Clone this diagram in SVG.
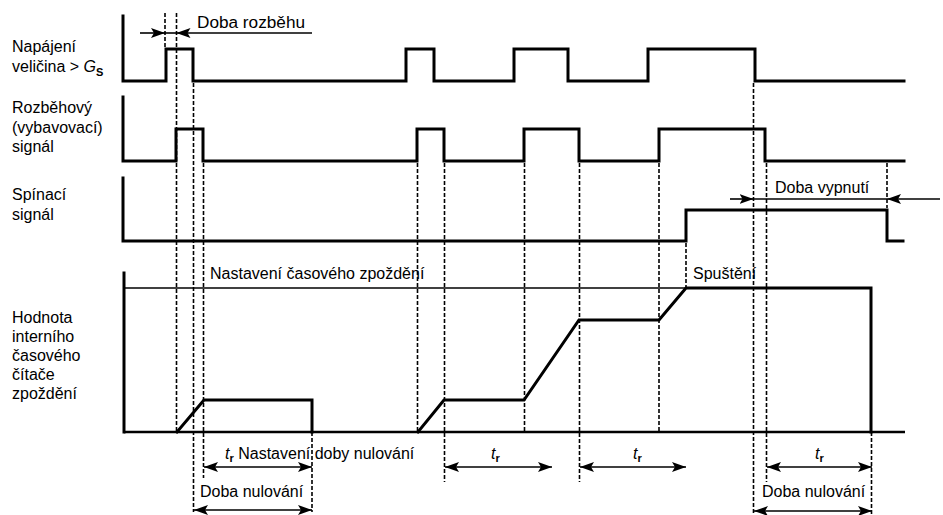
<svg xmlns="http://www.w3.org/2000/svg" width="943" height="515" viewBox="0 0 943 515">
  <style>
    text { font-family: "Liberation Sans", Arial, sans-serif; font-size: 16px; fill: #000; }
    .wave { fill: none; stroke: #000; stroke-width: 3; stroke-linejoin: miter; stroke-linecap: square; }
    .base { fill: none; stroke: #000; stroke-width: 2.5; }
    .thin { fill: none; stroke: #000; stroke-width: 1.4; }
    .dash { fill: none; stroke: #000; stroke-width: 1.6; stroke-dasharray: 4 2; }
    .dim { fill: none; stroke: #000; stroke-width: 1.6; }
    .it { font-style: italic; }
    .sub { font-size: 11px; font-weight: bold; }
  </style>
  <defs>
    <marker id="ah" viewBox="0 0 14 10" refX="14" refY="5" markerWidth="14" markerHeight="10" markerUnits="userSpaceOnUse" orient="auto-start-reverse">
      <path d="M0,0 L14,5 L0,10 L3,5 Z" fill="#000"/>
    </marker>
    <marker id="ahIn" viewBox="0 0 14 10" refX="14" refY="5" markerWidth="14" markerHeight="10" markerUnits="userSpaceOnUse" orient="auto">
      <path d="M0,0 L14,5 L0,10 L3,5 Z" fill="#000"/>
    </marker>
  </defs>

  <rect width="943" height="515" fill="#fff"/>

  <!-- signal labels -->
  <g id="label-napajeni">
    <text x="12" y="52">Napájení</text>
    <text x="12" y="72">veličina &gt; <tspan class="it">G</tspan><tspan class="sub" dy="4">S</tspan></text>
  </g>
  <g id="label-rozbehovy">
    <text x="12" y="113">Rozběhový</text>
    <text x="12" y="133">(vybavovací)</text>
    <text x="12" y="152">signál</text>
  </g>
  <g id="label-spinaci">
    <text x="12" y="200">Spínací</text>
    <text x="12" y="220">signál</text>
  </g>
  <g id="label-citac">
    <text x="12" y="323">Hodnota</text>
    <text x="12" y="342">interního</text>
    <text x="12" y="361">časového</text>
    <text x="12" y="380">čítače</text>
    <text x="12" y="399">zpoždění</text>
  </g>

  <!-- dashed timing guides -->
  <g id="guides">
    <path class="dash" d="M165,13 V49"/>
    <path class="dash" d="M176.5,13 V432"/>
    <path class="dash" d="M193.5,83 V512"/>
    <path class="dash" d="M203.5,163 V478"/>
    <path class="dash" d="M312,432 V512"/>
    <path class="dash" d="M417.5,163 V432"/>
    <path class="dash" d="M444.5,163 V482"/>
    <path class="dash" d="M524.5,163 V432"/>
    <path class="dash" d="M579.5,163 V482"/>
    <path class="dash" d="M659,163 V432"/>
    <path class="dash" d="M686,243 V288"/>
    <path class="dash" d="M753.5,83 V515"/>
    <path class="dash" d="M766.5,163 V482"/>
    <path class="dash" d="M887,163 V208"/>
    <path class="dash" d="M871.5,432 V515"/>
  </g>

  <!-- waveforms -->
  <g id="wave-napajeni">
    <path class="wave" d="M123,16 V81 H166 V49 H193 V81 H406 V49 H434 V81 H514 V49 H568 V81 H648 V49 H755 V81 H904"/>
  </g>
  <g id="wave-rozbehovy">
    <path class="wave" d="M123,97 V161 H176 V129 H203 V161 H417 V129 H444 V161 H524 V129 H579 V161 H659 V129 H765 V161 H904"/>
  </g>
  <g id="wave-spinaci">
    <path class="wave" d="M123,178 V241 H686 V210 H887 V241 H903"/>
  </g>
  <g id="wave-citac">
    <path class="wave" d="M124,273 V432"/>
    <path class="base" d="M124,432 H905"/>
    <path class="thin" d="M124,288 H686"/>
    <path class="wave" d="M177,432 L204,400 H312 V432"/>
    <path class="wave" d="M418,432 L444,400 H524 L579,320 H659 L686,288 H871 V432"/>
  </g>

  <!-- annotations -->
  <g id="note-texts">
    <text x="197" y="28" textLength="108" lengthAdjust="spacingAndGlyphs">Doba rozběhu</text>
    <text x="775" y="193">Doba vypnutí</text>
    <text x="210" y="279">Nastavení časového zpoždění</text>
    <text x="693" y="279">Spuštění</text>
    <text x="225" y="459"><tspan class="it">t</tspan><tspan class="sub" dy="3">r</tspan><tspan dy="-3"> Nastavení doby nulování</tspan></text>
    <text x="491" y="459"><tspan class="it">t</tspan><tspan class="sub" dy="3">r</tspan></text>
    <text x="633" y="459"><tspan class="it">t</tspan><tspan class="sub" dy="3">r</tspan></text>
    <text x="815" y="459"><tspan class="it">t</tspan><tspan class="sub" dy="3">r</tspan></text>
    <text x="200" y="497">Doba nulování</text>
    <text x="762" y="497">Doba nulování</text>
  </g>

  <!-- dimension arrows -->
  <g id="connectors">
    <path class="dim" d="M140,33 H165" marker-end="url(#ahIn)"/>
    <path class="dim" d="M312,33 H176.5" marker-end="url(#ahIn)"/>
    <path class="dim" d="M165,33 H176"/>
    <path class="dim" d="M730,199 H753.5" marker-end="url(#ahIn)"/>
    <path class="dim" d="M940,199 H887" marker-end="url(#ahIn)"/>
    <path class="dim" d="M753.5,199 H887"/>
    <path class="dim" d="M204,467 H312" marker-start="url(#ah)" marker-end="url(#ah)"/>
    <path class="dim" d="M445,467 H552" marker-start="url(#ah)" marker-end="url(#ah)"/>
    <path class="dim" d="M580,467 H686" marker-start="url(#ah)" marker-end="url(#ah)"/>
    <path class="dim" d="M767,467 H872" marker-start="url(#ah)" marker-end="url(#ah)"/>
    <path class="dim" d="M194,510 H312" marker-start="url(#ah)" marker-end="url(#ah)"/>
    <path class="dim" d="M754,511 H872" marker-start="url(#ah)" marker-end="url(#ah)"/>
  </g>
</svg>
